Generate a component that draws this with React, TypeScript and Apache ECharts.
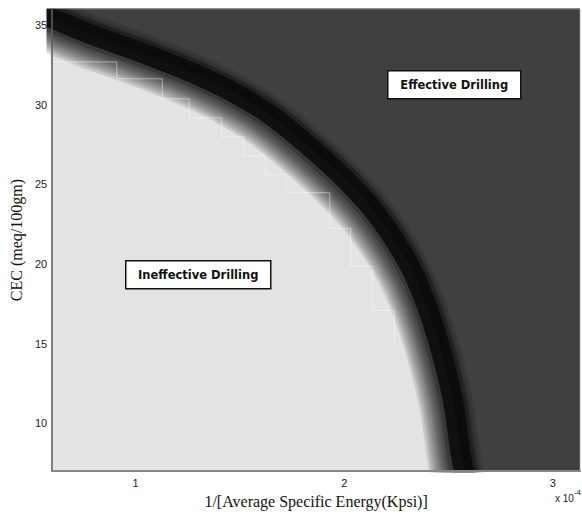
import React, { useEffect, useRef } from "react";
import * as echarts from "echarts";

// Decision boundary between the two drilling regimes (x in units of 1e-4);
// the first and last points continue just past the plotted window
const boundaryX = [0.55, 0.6, 0.805, 1.043, 1.28, 1.47, 1.646, 1.803, 1.993, 2.15, 2.311, 2.42, 2.515, 2.563, 2.59];
const boundaryY = [35.65, 35.4, 34.31, 33.19, 31.95, 30.75, 29.35, 27.7, 25.45, 23.2, 19.94, 16.44, 11.81, 7.69, 6.3];

// Cell-edge staircase inside the ineffective region
const stepX = [0.606, 0.91, 1.128, 1.257, 1.413, 1.518, 1.622, 1.722, 1.931, 2.031, 2.135, 2.24];
const stepY = [32.68, 31.62, 30.36, 29.17, 27.98, 26.79, 25.6, 24.47, 22.22, 19.84, 17.08, 15.01];

const xTicks = [1, 2, 3];
const yTicks = [10, 15, 20, 25, 30, 35];

const X_MIN = 0.6;
const X_MAX = 3.13;
const Y_MIN = 7;
const Y_MAX = 36;

// The soft fringe is drawn on a companion pair of axes nudged toward the ineffective side
const FRINGE_DX = 0.03;
const FRINGE_DY = 0.33;

const LIGHT = "#e3e3e3";
const DARK = "#404040";

// Stroke widths of the translucent layers that build the soft fringe of the band
const fadeWidths = [54, 49, 44, 39, 34, 30, 26, 22, 18];

const GRID = { left: 47, right: 2, top: 9, bottom: 42 };

export default function App() {
  const ref = useRef<HTMLDivElement>(null);

  useEffect(() => {
    if (!ref.current) return;
    const chart = echarts.init(ref.current, undefined, { renderer: "svg" });

    const boundary = boundaryX.map((x, i) => [x, boundaryY[i]]);
    const steps = stepX.map((x, i) => [x, stepY[i]]);

    const fade = fadeWidths.map((w, i) => ({
      name: "Boundary fringe " + (i + 1),
      type: "line",
      xAxisIndex: 1,
      yAxisIndex: 1,
      data: boundary,
      smooth: 0.35,
      symbol: "none",
      lineStyle: { width: w, color: "rgba(10,10,10,0.12)", cap: "butt", join: "round" },
      silent: true,
      z: 3,
    }));

    const hiddenAxis = {
      type: "value",
      show: false,
      axisLine: { show: false },
      axisTick: { show: false },
      axisLabel: { show: false },
      splitLine: { show: false },
    };

    const W = 582;
    const H = 514;
    const coverStyle = { fill: "#ffffff" };

    chart.setOption({
      animation: false,
      backgroundColor: "#ffffff",
      grid: {
        ...GRID,
        show: true,
        backgroundColor: DARK,
        borderColor: "#7a7a7a",
        borderWidth: 1,
      },
      xAxis: [
        {
          type: "value",
          min: X_MIN,
          max: X_MAX,
          z: 30,
          name: "1/[Average Specific Energy(Kpsi)]",
          nameLocation: "middle",
          nameGap: 15,
          nameTextStyle: {
            fontFamily: "Liberation Serif",
            fontSize: 16,
            color: "#111",
            verticalAlign: "top",
          },
          axisLine: { show: true, lineStyle: { color: "#858585", width: 2 } },
          axisTick: { show: false },
          splitLine: { show: false },
          axisLabel: {
            customValues: xTicks,
            fontFamily: "Liberation Sans",
            fontSize: 11,
            color: "#222",
            margin: 6,
            formatter: (v: number) => String(v),
          },
        },
        { ...hiddenAxis, min: X_MIN + FRINGE_DX, max: X_MAX + FRINGE_DX },
      ],
      yAxis: [
        {
          type: "value",
          min: Y_MIN,
          max: Y_MAX,
          z: 30,
          name: "CEC (meq/100gm)",
          nameLocation: "middle",
          nameGap: 25,
          nameRotate: 90,
          nameTextStyle: {
            fontFamily: "Liberation Serif",
            fontSize: 16,
            color: "#111",
          },
          axisLine: { show: true, lineStyle: { color: "#606060", width: 1.5 } },
          axisTick: { show: false },
          splitLine: { show: false },
          axisLabel: {
            customValues: yTicks,
            fontFamily: "Liberation Sans",
            fontSize: 11,
            color: "#222",
            margin: 5,
            formatter: (v: number) => String(v),
          },
        },
        { ...hiddenAxis, min: Y_MIN + FRINGE_DY, max: Y_MAX + FRINGE_DY },
      ],
      series: [
        {
          name: "Ineffective region",
          type: "line",
          data: boundary,
          smooth: 0.35,
          symbol: "none",
          lineStyle: { width: 0 },
          areaStyle: { color: LIGHT, opacity: 1, origin: "start" },
          silent: true,
          z: 1,
        },
        ...fade,
        {
          name: "Cell edges",
          type: "line",
          data: steps,
          step: "end",
          symbol: "none",
          lineStyle: { width: 1, color: "rgba(255,255,255,0.45)" },
          silent: true,
          z: 4,
        },
        {
          name: "Boundary edge",
          type: "line",
          data: boundary,
          smooth: 0.35,
          symbol: "none",
          lineStyle: { width: 28, color: "rgba(12,12,12,0.28)", cap: "butt", join: "round" },
          silent: true,
          z: 5,
        },
        {
          name: "Boundary",
          type: "line",
          data: boundary,
          smooth: 0.35,
          symbol: "none",
          lineStyle: { width: 20, color: "rgba(10,10,10,0.88)", cap: "butt", join: "round" },
          silent: true,
          z: 6,
        },
      ],
      graphic: [
        // white margins keep the wide boundary strokes inside the plotting area
        { type: "rect", z: 20, silent: true, shape: { x: 0, y: 0, width: W, height: GRID.top - 0.5 }, style: coverStyle },
        { type: "rect", z: 20, silent: true, shape: { x: 0, y: 0, width: GRID.left - 0.5, height: H }, style: coverStyle },
        { type: "rect", z: 20, silent: true, shape: { x: 0, y: H - GRID.bottom + 0.5, width: W, height: GRID.bottom }, style: coverStyle },
        { type: "rect", z: 20, silent: true, shape: { x: W - GRID.right + 0.5, y: 0, width: GRID.right, height: H }, style: coverStyle },
        {
          type: "line",
          z: 21,
          silent: true,
          shape: { x1: GRID.left, y1: GRID.top - 0.5, x2: W - GRID.right, y2: GRID.top - 0.5 },
          style: { stroke: "#8c8c8c", lineWidth: 1 },
        },
        {
          type: "group",
          left: 387,
          top: 70,
          z: 40,
          children: [
            {
              type: "rect",
              z: 40,
              shape: { x: 0, y: 0, width: 133, height: 28 },
              style: { fill: "#ffffff", stroke: "#111", lineWidth: 1.5 },
            },
            {
              type: "text",
              z: 41,
              x: 66.5,
              y: 14,
              style: {
                text: "Effective Drilling",
                fontFamily: "DejaVu Sans",
                fontWeight: "bold",
                fontSize: 11.5,
                fill: "#111",
                align: "center",
                verticalAlign: "middle",
                textAlign: "center",
                textVerticalAlign: "middle",
              },
            },
          ],
        },
        {
          type: "group",
          left: 125,
          top: 260,
          z: 40,
          children: [
            {
              type: "rect",
              z: 40,
              shape: { x: 0, y: 0, width: 145, height: 28 },
              style: { fill: "#ffffff", stroke: "#111", lineWidth: 1.5 },
            },
            {
              type: "text",
              z: 41,
              x: 72.5,
              y: 14,
              style: {
                text: "Ineffective Drilling",
                fontFamily: "DejaVu Sans",
                fontWeight: "bold",
                fontSize: 11.5,
                fill: "#111",
                align: "center",
                verticalAlign: "middle",
                textAlign: "center",
                textVerticalAlign: "middle",
              },
            },
          ],
        },
        {
          type: "text",
          z: 41,
          left: 555,
          top: 488,
          style: {
            text: "{b|x 10}{s|-4}",
            rich: {
              b: { fontFamily: "Liberation Sans", fontSize: 10, fill: "#222", color: "#222", padding: [6, 0, 0, 0] },
              s: { fontFamily: "Liberation Sans", fontSize: 8, fill: "#222", color: "#222", padding: [0, 0, 6, 0] },
            },
          },
        },
      ],
    });

    return () => chart.dispose();
  }, []);

  return (
    <div
      ref={ref}
      style={{ position: "absolute", left: 0, top: 0, width: 582, height: 514 }}
    />
  );
}
